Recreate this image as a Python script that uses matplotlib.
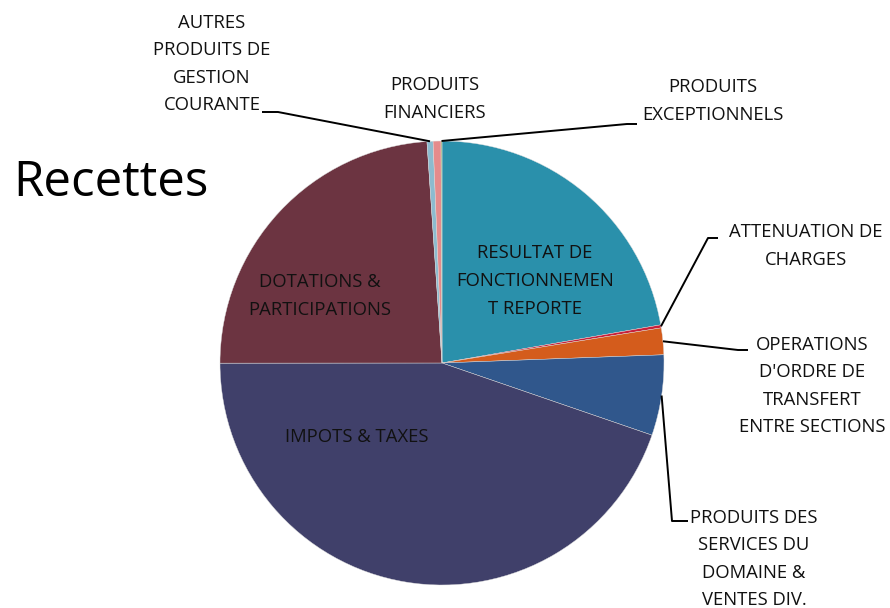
import matplotlib
matplotlib.use("Agg")
import matplotlib.pyplot as plt
import numpy as np

plt.rcParams['font.family'] = ['Open Sans', 'DejaVu Sans']

labels = ["RESULTAT DE\nFONCTIONNEMEN\nT REPORTE",
          "ATTENUATION DE\nCHARGES",
          "OPERATIONS\nD'ORDRE DE\nTRANSFERT\nENTRE SECTIONS",
          "PRODUITS DES\nSERVICES DU\nDOMAINE &\nVENTES DIV.",
          "IMPOTS & TAXES",
          "DOTATIONS &\nPARTICIPATIONS",
          "AUTRES\nPRODUITS DE\nGESTION\nCOURANTE",
          "PRODUITS\nFINANCIERS",
          "PRODUITS\nEXCEPTIONNELS"]
values = [22.25, 0.22, 1.94, 5.86, 44.72, 23.93, 0.44, 0.57, 0.07]
colors = ["#2A90AB", "#C8203A", "#D45C1C", "#30578C", "#40406A",
          "#6C3441", "#8CBBCF", "#E58B8C", "#8AA55A"]

W, H = 890, 608
CX, CY, R = 442, 363, 222

fig = plt.figure(figsize=(W / 100, H / 100), dpi=100)
ax = fig.add_axes([0, 0, 1, 1])

wedges, _ = ax.pie(values, colors=colors, startangle=90, counterclock=False,
                   radius=1, center=(0, 0),
                   wedgeprops=dict(linewidth=0.3, edgecolor="#dddddd"))


def px(x, y):
    return ((x - CX) / R, (CY - y) / R)


ax.set_xlim(-CX / R, (W - CX) / R)
ax.set_ylim((CY - H) / R, CY / R)
ax.set_aspect("equal")
ax.axis("off")

fs = 13.3
ls = 1.68

# inside labels
inside = {0: (535, 281), 5: (320, 296), 4: (357, 437)}
for i, (x, y) in inside.items():
    ax.text(*px(x, y), labels[i], ha="center", va="center", fontsize=fs,
            linespacing=ls, color="#111111")

# outside labels: text centre, knee point, knee end
outside = {
    6: ((212, 64), (278, 112), (262, 112)),
    7: ((435, 99), None, None),
    8: ((713, 101), (627, 124), (637, 124)),
    1: ((806, 246), (708, 238), (718, 238)),
    2: ((812, 386), (738, 350), (748, 350)),
    3: ((754, 559), (672, 521), (688, 521)),
}

for i, (tpos, knee, kend) in outside.items():
    ax.text(*px(*tpos), labels[i], ha="center", va="center", fontsize=fs,
            linespacing=ls, color="#111111")
    if knee is None:
        continue
    w = wedges[i]
    mid = np.deg2rad((w.theta1 + w.theta2) / 2)
    ex, ey = np.cos(mid), np.sin(mid)
    kx, ky = px(*knee)
    k2x, k2y = px(*kend)
    ax.plot([ex, kx, k2x], [ey, ky, k2y], color="black", lw=1.4,
            solid_capstyle="butt")

ax.text(*px(13, 183), "Recettes", ha="left", va="center", fontsize=35.5,
        color="black")

fig.savefig("out.png", dpi=100)
